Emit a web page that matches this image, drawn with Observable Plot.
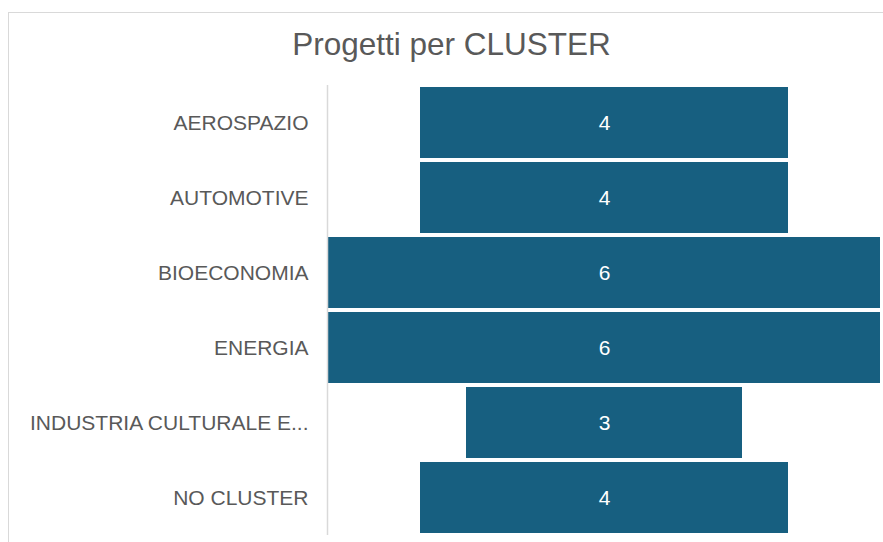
<!DOCTYPE html>
<html>
<head>
<meta charset="utf-8">
<script src="https://cdn.jsdelivr.net/npm/d3@7"></script>
<script src="https://cdn.jsdelivr.net/npm/@observablehq/plot@0.6"></script>
<style>
  html, body { margin: 0; padding: 0; background: #fff; }
  #wrap { position: relative; width: 883px; height: 542px; overflow: hidden; font-family: "Liberation Sans", Arial, sans-serif; }
  #frameTop { position: absolute; left: 8px; top: 12px; width: 875px; height: 0; border-top: 1.5px solid #d9d9d9; }
  #frameLeft { position: absolute; left: 8px; top: 12px; width: 0; height: 530px; border-left: 1.5px solid #d9d9d9; }
  #title { position: absolute; left: 0; top: 27px; width: 903px; text-align: center; font-size: 31.5px; color: #595959; line-height: 34px; }
  #chart { position: absolute; left: 0; top: 0; }
</style>
</head>
<body>
<div id="wrap">
  <div id="chart"></div>
  <div id="frameTop"></div>
  <div id="frameLeft"></div>
  <div id="title">Progetti per CLUSTER</div>
</div>
<script>
const categories = ["AEROSPAZIO", "AUTOMOTIVE", "BIOECONOMIA", "ENERGIA", "INDUSTRIA CULTURALE E...", "NO CLUSTER"];
const values = [4, 4, 6, 6, 3, 4];

const data = categories.map((c, i) => ({cluster: c, value: values[i]}));
const maxV = d3.max(values);

const chart = Plot.plot({
  width: 883,
  height: 542,
  marginTop: 85,
  marginBottom: 7,
  marginLeft: 328,
  marginRight: 3,
  style: {fontFamily: "'Liberation Sans', Arial, sans-serif", fontSize: "21px", color: "#595959", background: "transparent"},
  x: {domain: [-maxV / 2, maxV / 2], axis: null},
  y: {domain: categories, paddingInner: 0.053, paddingOuter: 0.0265, label: null},
  marks: [
    Plot.barX(data, {y: "cluster", x1: d => -d.value / 2, x2: d => d.value / 2, fill: "#175f80"}),
    Plot.text(data, {y: "cluster", x: 0, text: d => String(d.value), fill: "white", fontSize: 21}),
    Plot.axisY({tickSize: 0, tickPadding: 20, fill: "#595959", fontSize: 21}),
    Plot.ruleX([-maxV / 2], {stroke: "#d9d9d9", strokeWidth: 1.5, dx: -1})
  ]
});
document.getElementById("chart").appendChild(chart);
</script>
</body>
</html>
